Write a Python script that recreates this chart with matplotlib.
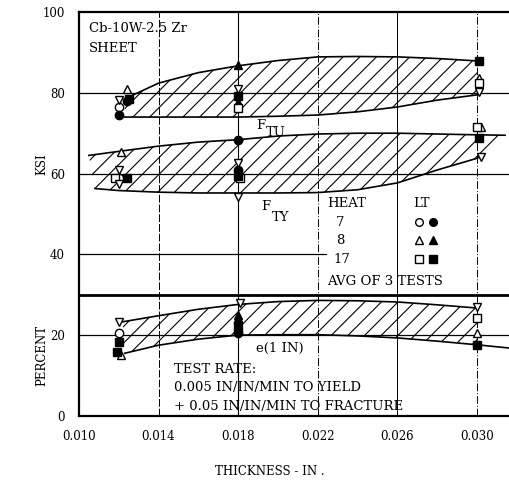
# Cb-10W-2.5Zr sheet: tensile properties vs. thickness
import numpy as np
import matplotlib.pyplot as plt

plt.rcParams['font.family'] = ['DejaVu Serif']
plt.rcParams['hatch.linewidth'] = 0.8

# band boundaries (thickness in, KSI / percent)
ftu_up_x = [0.0123, 0.014, 0.016, 0.018, 0.020, 0.022, 0.024, 0.026, 0.028, 0.030]
ftu_up_y = [78.5, 82.4, 85.0, 86.7, 88.0, 88.9, 89.0, 88.9, 88.5, 87.9]
ftu_lo_x = [0.0123, 0.014, 0.016, 0.018, 0.020, 0.022, 0.024, 0.026, 0.028, 0.030]
ftu_lo_y = [74.0, 74.0, 74.0, 74.0, 74.2, 74.5, 75.3, 76.5, 78.2, 79.5]

fty_up_x = [0.0105, 0.012, 0.014, 0.016, 0.018, 0.020, 0.022, 0.024, 0.026, 0.028, 0.030, 0.0314]
fty_up_y = [64.5, 65.5, 66.8, 67.8, 68.4, 69.3, 69.8, 70.0, 70.0, 69.8, 69.6, 69.5]
fty_lo_x = [0.0108, 0.012, 0.014, 0.016, 0.018, 0.020, 0.022, 0.024, 0.026, 0.028, 0.030, 0.0303]
fty_lo_y = [56.3, 55.8, 55.4, 55.2, 55.2, 55.2, 55.3, 56.0, 57.7, 60.9, 63.8, 64.5]

el_up_x = [0.0122, 0.014, 0.016, 0.018, 0.020, 0.022, 0.024, 0.026, 0.028, 0.030]
el_up_y = [23.3, 24.8, 26.4, 27.6, 28.3, 28.6, 28.5, 28.2, 27.5, 26.7]
el_lo_x = [0.0123, 0.014, 0.016, 0.018, 0.020, 0.022, 0.024, 0.026, 0.028, 0.030]
el_lo_y = [15.5, 17.5, 19.0, 20.0, 20.1, 20.1, 19.8, 19.3, 18.5, 17.6]
el_tail_x = [0.030, 0.0316]
el_tail_y = [17.6, 16.8]

# test points, by symbol
open_circle_x = [0.0120, 0.0120, 0.0120]
open_circle_y = [76.5, 59.0, 20.5]
fill_circle_x = [0.0120, 0.0124, 0.0180, 0.0180, 0.0180, 0.0180]
fill_circle_y = [74.6, 78.0, 68.3, 61.0, 23.0, 20.5]
open_tri_x = [0.0124, 0.0301, 0.0121, 0.0302, 0.0121, 0.0300]
open_tri_y = [81.0, 83.6, 65.4, 71.6, 15.0, 20.5]
fill_tri_x = [0.0180, 0.0180, 0.0180]
fill_tri_y = [86.8, 77.7, 25.0]
open_sq_x = [0.0180, 0.0301, 0.0118, 0.0181, 0.0300, 0.0300]
open_sq_y = [76.3, 82.4, 59.0, 59.0, 71.5, 24.3]
fill_sq_x = [0.0125, 0.0180, 0.0301, 0.0124, 0.0180, 0.0301, 0.0120, 0.0119, 0.0180, 0.0300]
fill_sq_y = [78.5, 79.2, 87.9, 59.0, 59.5, 68.8, 18.3, 15.8, 21.5, 17.6]
down_tri_x = [0.0120, 0.0180, 0.0301, 0.0120, 0.0120, 0.0180, 0.0180, 0.0302, 0.0120, 0.0181, 0.0300]
down_tri_y = [78.3, 81.0, 80.2, 60.8, 57.3, 62.6, 54.2, 64.0, 23.2, 28.0, 27.0]

x_ticks = [0.010, 0.014, 0.018, 0.022, 0.026, 0.030]
x_tick_labels = ['0.010', '0.014', '0.018', '0.022', '0.026', '0.030']
y_ticks = [0, 20, 40, 60, 80, 100]

fig = plt.figure(figsize=(5.09, 4.83), dpi=100)
ax = fig.add_axes([0.155, 0.139, 0.845, 0.836])
ax.set_xlim(0.010, 0.0316)
ax.set_ylim(0, 100)

# grid, drawn by hand to mimic the scan
ax.axvline(0.014, color='k', lw=0.7, ls=(0, (8, 2)))
ax.axvline(0.018, color='k', lw=0.8)
ax.axvline(0.022, color='k', lw=0.7, ls=(0, (8, 2, 1, 2)))
ax.axvline(0.026, color='k', lw=0.7)
ax.axvline(0.030, color='k', lw=0.7, ls=(0, (8, 2, 1, 2)))
for yv in [20, 60, 80]:
    ax.axhline(yv, color='k', lw=0.9)
ax.plot([0.010, 0.0224], [40, 40], color='k', lw=0.9)
ax.axhline(30, color='k', lw=2.0)

def band(ux, uy, lx, ly):
    px = np.concatenate([ux, lx[::-1]])
    py = np.concatenate([uy, ly[::-1]])
    ax.fill(px, py, facecolor='none', edgecolor='k', hatch='//', lw=0)
    ax.plot(ux, uy, color='k', lw=1.2)
    ax.plot(lx, ly, color='k', lw=1.2)

band(ftu_up_x, ftu_up_y, ftu_lo_x, ftu_lo_y)
band(fty_up_x, fty_up_y, fty_lo_x, fty_lo_y)
band(el_up_x, el_up_y, el_lo_x, el_lo_y)
ax.plot(el_tail_x, el_tail_y, color='k', lw=1.2)

ms = 6
kw = dict(ls='none', markeredgecolor='k', markersize=ms, mew=1.0, zorder=5)
ax.plot(open_circle_x, open_circle_y, marker='o', markerfacecolor='white', **kw)
ax.plot(fill_circle_x, fill_circle_y, marker='o', markerfacecolor='k', **kw)
ax.plot(open_tri_x, open_tri_y, marker='^', markerfacecolor='white', **kw)
ax.plot(fill_tri_x, fill_tri_y, marker='^', markerfacecolor='k', **kw)
ax.plot(open_sq_x, open_sq_y, marker='s', markerfacecolor='white', **kw)
ax.plot(fill_sq_x, fill_sq_y, marker='s', markerfacecolor='k', **kw)
ax.plot(down_tri_x, down_tri_y, marker='v', markerfacecolor='white', **kw)

# text
fs = 9.5
ax.text(0.0105, 96.0, 'Cb-10W-2.5 Zr', fontsize=fs, va='center')
ax.text(0.0105, 91.0, 'SHEET', fontsize=fs, va='center')
ax.text(0.0189, 72.0, 'F', fontsize=fs, va='center')
ax.text(0.0194, 70.2, 'TU', fontsize=fs, va='center')
ax.text(0.01915, 51.8, 'F', fontsize=fs, va='center')
ax.text(0.0197, 49.2, 'TY', fontsize=fs, va='center')
ax.text(0.02245, 52.7, 'HEAT', fontsize=fs, va='center')
ax.text(0.0268, 52.7, 'LT', fontsize=fs, va='center')
ax.text(0.0229, 48.0, '7', fontsize=fs, va='center')
ax.text(0.0229, 43.5, '8', fontsize=fs, va='center')
ax.text(0.0228, 38.8, '17', fontsize=fs, va='center')
ax.text(0.02245, 33.3, 'AVG OF 3 TESTS', fontsize=fs, va='center')
leg_kw = dict(ls='none', markeredgecolor='k', markersize=5.5, mew=1.0)
ax.plot([0.0271], [48.0], marker='o', markerfacecolor='white', **leg_kw)
ax.plot([0.0278], [48.0], marker='o', markerfacecolor='k', **leg_kw)
ax.plot([0.0271], [43.5], marker='^', markerfacecolor='white', **leg_kw)
ax.plot([0.0278], [43.5], marker='^', markerfacecolor='k', **leg_kw)
ax.plot([0.0271], [38.8], marker='s', markerfacecolor='white', **leg_kw)
ax.plot([0.0278], [38.8], marker='s', markerfacecolor='k', **leg_kw)

ax.text(0.0189, 16.8, 'e(1 IN)', fontsize=fs, va='center')
ax.text(0.0148, 11.4, 'TEST RATE:', fontsize=fs, va='center')
ax.text(0.0148, 7.0, '0.005 IN/IN/MIN TO YIELD', fontsize=fs, va='center')
ax.text(0.0148, 2.4, '+ 0.05 IN/IN/MIN TO FRACTURE', fontsize=fs, va='center')

ax.set_xticks(x_ticks)
ax.set_xticklabels(x_tick_labels, fontsize=8.5)
ax.set_yticks(y_ticks)
ax.set_yticklabels([str(v) for v in y_ticks], fontsize=8.5)
ax.tick_params(length=0, pad=10)

for s in ['top', 'left', 'bottom']:
    ax.spines[s].set_linewidth(1.6)
ax.spines['right'].set_visible(False)

fig.text(0.083, 0.66, 'KSI', rotation=90, fontsize=8.5, ha='center', va='center')
fig.text(0.083, 0.265, 'PERCENT', rotation=90, fontsize=8.5, ha='center', va='center')
fig.text(0.53, 0.023, 'THICKNESS - IN .', fontsize=8.5, ha='center', va='center')

fig.savefig('out.png', dpi=100)
